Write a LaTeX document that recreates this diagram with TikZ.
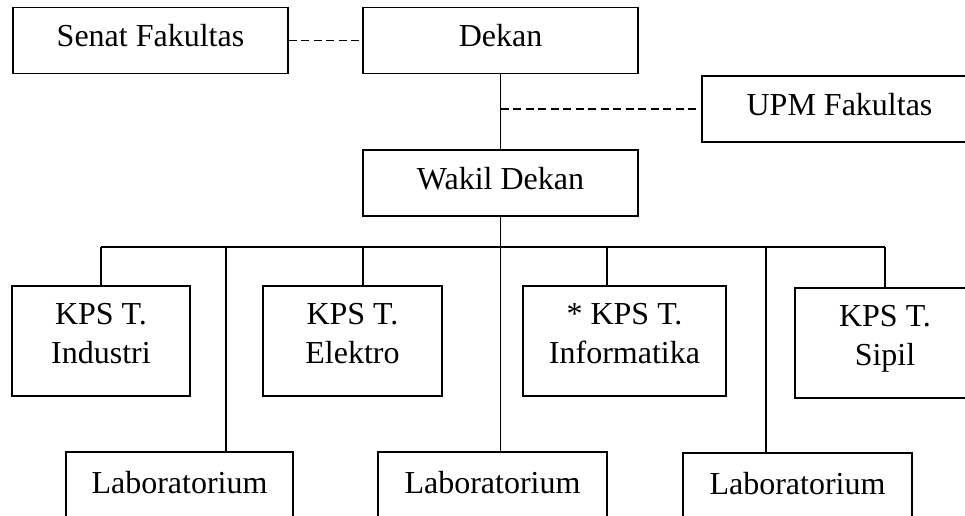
\documentclass[tikz,border=0pt]{standalone}
\usepackage{fontspec}
\setmainfont{Liberation Serif}
\begin{document}
\begin{tikzpicture}[x=1pt,y=-1pt,line width=1.2pt,
  base/.style={draw,rectangle,inner sep=2pt,font=\fontsize{32}{38.4}\selectfont},
  one/.style={base,text height=22pt,text depth=10pt,minimum width=275pt,minimum height=66pt},
  kps/.style={base,minimum height=110pt},
  lab/.style={base,text height=22pt,text depth=10pt,minimum height=70pt},
  dashline/.style={dash pattern=on 8pt off 4.5pt}]
\useasboundingbox (0,0) rectangle (965,515);
\clip (0,0) rectangle (965,515);
\fill[white] (0,0) rectangle (965,515);
% top level
\node[one] (senat) at (150.5,40.5) {Senat Fakultas};
\node[one] (dekan) at (500.5,40.5) {Dekan};
\node[one] (upm) at (839.5,109) {UPM Fakultas};
\node[one] (wakil) at (500.5,183) {Wakil Dekan};
% KPS
\node[kps,minimum width=178pt] (ind) at (101,341) {\begin{tabular}{@{}c@{}}KPS T.\\Industri\\[9pt]\end{tabular}};
\node[kps,minimum width=179pt] (elk) at (352.5,341) {\begin{tabular}{@{}c@{}}KPS T.\\Elektro\\[9pt]\end{tabular}};
\node[kps,minimum width=203pt] (inf) at (624.5,341) {\begin{tabular}{@{}c@{}}* KPS T.\\Informatika\\[9pt]\end{tabular}};
\node[kps,minimum width=180pt] (sip) at (885,343) {\begin{tabular}{@{}c@{}}KPS T.\\Sipil\\[9pt]\end{tabular}};
% Labs
\node[lab,minimum width=227pt] (lab1) at (179.5,487) {Laboratorium};
\node[lab,minimum width=229pt] (lab2) at (492.5,487) {Laboratorium};
\node[lab,minimum width=229pt] (lab3) at (797.5,488) {Laboratorium};
% connector coordinates
\coordinate (busy) at (0,247);
\coordinate (d1) at (226,247);
\coordinate (d2) at (363,247);
\coordinate (d3) at (607,247);
\coordinate (d4) at (766,247);
\coordinate (j) at (dekan.south |- upm.west);
% connectors
\draw[dashline] (senat.east) -- (dekan.west);
\draw (dekan.south) -- (wakil.north);
\draw[dashline] (j) -- (upm.west);
\draw (wakil.south) -- (wakil.south |- busy);
\draw (ind.north |- busy) -- (sip.north |- busy);
\draw (ind.north |- busy) -- (ind.north);
\draw (d2) -- (d2 |- elk.north);
\draw (d3) -- (d3 |- inf.north);
\draw (sip.north |- busy) -- (sip.north);
\draw (d1) -- (d1 |- lab1.north);
\draw (wakil.south |- busy) -- (wakil.south |- lab2.north);
\draw (d4) -- (d4 |- lab3.north);
\end{tikzpicture}
\end{document}
